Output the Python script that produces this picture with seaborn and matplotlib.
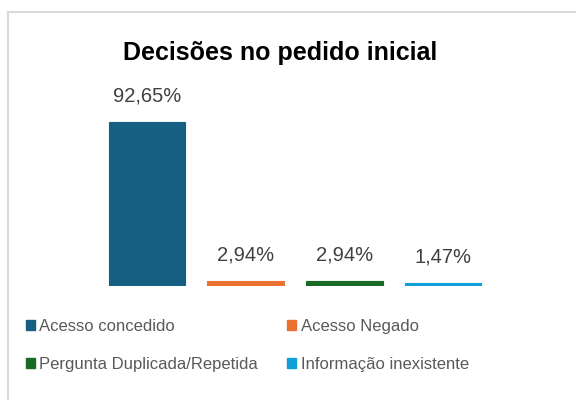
import matplotlib.pyplot as plt
import matplotlib.patches as mpatches
import seaborn as sns
import pandas as pd

categories = ['Acesso concedido', 'Acesso Negado', 'Pergunta Duplicada/Repetida', 'Informação inexistente']
values = [92.65, 2.94, 2.94, 1.47]
labels = ['92,65%', '2,94%', '2,94%', '1,47%']
colors = ['#156082', '#E97132', '#196B24', '#0F9ED5']
title = 'Decisões no pedido inicial'

sns.set_style('white')
plt.rcParams['font.family'] = ['Liberation Sans', 'DejaVu Sans']

df = pd.DataFrame({'cat': categories, 'val': values})

fig = plt.figure(figsize=(5.76, 4.0), dpi=100)
# axes placed in pixel terms of the 576x400 canvas
W, H = 576, 400
left, right, bottom, top = 97.5, 492.5, 286, 109
ax = fig.add_axes([left / W, 1 - bottom / H, (right - left) / W, (bottom - top) / H])

sns.barplot(data=df, x='cat', y='val', hue='cat', palette=colors, dodge=False,
            width=0.775, legend=False, ax=ax, saturation=1, linewidth=0.8)
for cont, c in zip(ax.containers, colors):
    for bar in cont:
        bar.set_edgecolor(c)
ax.set_xlim(-0.5, 3.5)
ax.set_ylim(0, 100)
ax.axis('off')

for i, cont in enumerate(ax.containers):
    ax.bar_label(cont, labels=[labels[i]], padding=12, fontsize=14.5, color='#404040')

fig.text(280 / W, 1 - 53 / H, title, ha='center', va='center',
         fontsize=18, fontweight='bold', color='black')

# row-major order like the reference: column 1 = items 0,2; column 2 = items 1,3
order = [0, 2, 1, 3]
handles = [mpatches.Patch(color=colors[i], label=categories[i]) for i in order]
fig.legend(handles=handles, ncol=2, loc='upper left', bbox_to_anchor=(26 / W, 1 - 319 / H),
           frameon=False, fontsize=12, labelcolor='#595959', handlelength=0.55, handleheight=0.55,
           handletextpad=0.25, columnspacing=1.75, labelspacing=1.35, borderaxespad=0,
           borderpad=0)

border = mpatches.Rectangle((7.5 / W, -0.1), 1.2, 1 - 12.5 / H + 0.1, transform=fig.transFigure,
                            fill=False, edgecolor='#D9D9D9', linewidth=1.5, clip_on=False)
fig.patches.append(border)

fig.savefig('out.png', dpi=100)
